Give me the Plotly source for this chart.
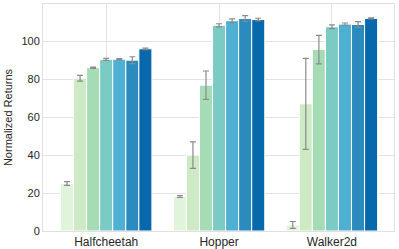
import plotly.graph_objects as go

categories = ["Halfcheetah", "Hopper", "Walker2d"]
series_names = ["m1", "m2", "m3", "m4", "m5", "m6", "m7"]
values = [
    [25.0, 18.2, 3.2],
    [80.5, 40.0, 67.0],
    [86.0, 76.8, 95.6],
    [90.4, 108.4, 107.6],
    [90.5, 110.8, 109.0],
    [90.0, 112.0, 108.8],
    [96.0, 111.4, 112.0],
]
errors = [
    [1.0, 0.5, 1.8],
    [1.5, 7.0, 24.0],
    [0.3, 7.5, 7.5],
    [0.5, 0.8, 1.0],
    [0.3, 1.0, 0.6],
    [1.8, 1.5, 1.5],
    [0.4, 0.7, 0.3],
]
colors = ["#e0f3db", "#cdeac5", "#a6dcb5", "#7bcbc4", "#4eb1d4", "#2b8bbe", "#0868ac"]

fig = go.Figure()
x = list(range(len(categories)))
for name, v, e, c in zip(series_names, values, errors, colors):
    fig.add_trace(go.Bar(
        x=x, y=v, name=name,
        marker=dict(color=c, line=dict(color="white", width=1)),
        error_y=dict(type="data", array=e, color="#8a8a8a", thickness=1.2, width=3),
    ))

fig.update_layout(
    width=399, height=249,
    margin=dict(l=43, r=5, t=4, b=18),
    barmode="group", bargap=0.19, bargroupgap=0,
    plot_bgcolor="white", paper_bgcolor="white",
    showlegend=False,
    font=dict(family="Liberation Sans, Arial, sans-serif", color="#262626"),
)
fig.update_xaxes(
    range=[-0.56, 2.55], tickvals=x, ticktext=categories,
    showgrid=True, gridcolor="#e3e3e3", gridwidth=1,
    showline=True, linecolor="#e0e0e0", mirror=True, linewidth=1,
    ticks="", tickfont=dict(size=12), zeroline=False, automargin=False,
    ticklabelstandoff=0,
)
fig.update_yaxes(
    range=[0, 119.6], tickvals=[0, 20, 40, 60, 80, 100],
    showgrid=True, gridcolor="#e3e3e3", gridwidth=1,
    showline=True, linecolor="#e0e0e0", mirror=True, linewidth=1,
    ticks="", tickfont=dict(size=11), zeroline=False, automargin=False,
    title=dict(text="Normalized Returns", font=dict(size=11), standoff=6),
)

fig.write_html(
    "out.html",
    config={"displayModeBar": False},
    post_script="document.body.style.margin='0';document.body.style.overflow='hidden';",
)
